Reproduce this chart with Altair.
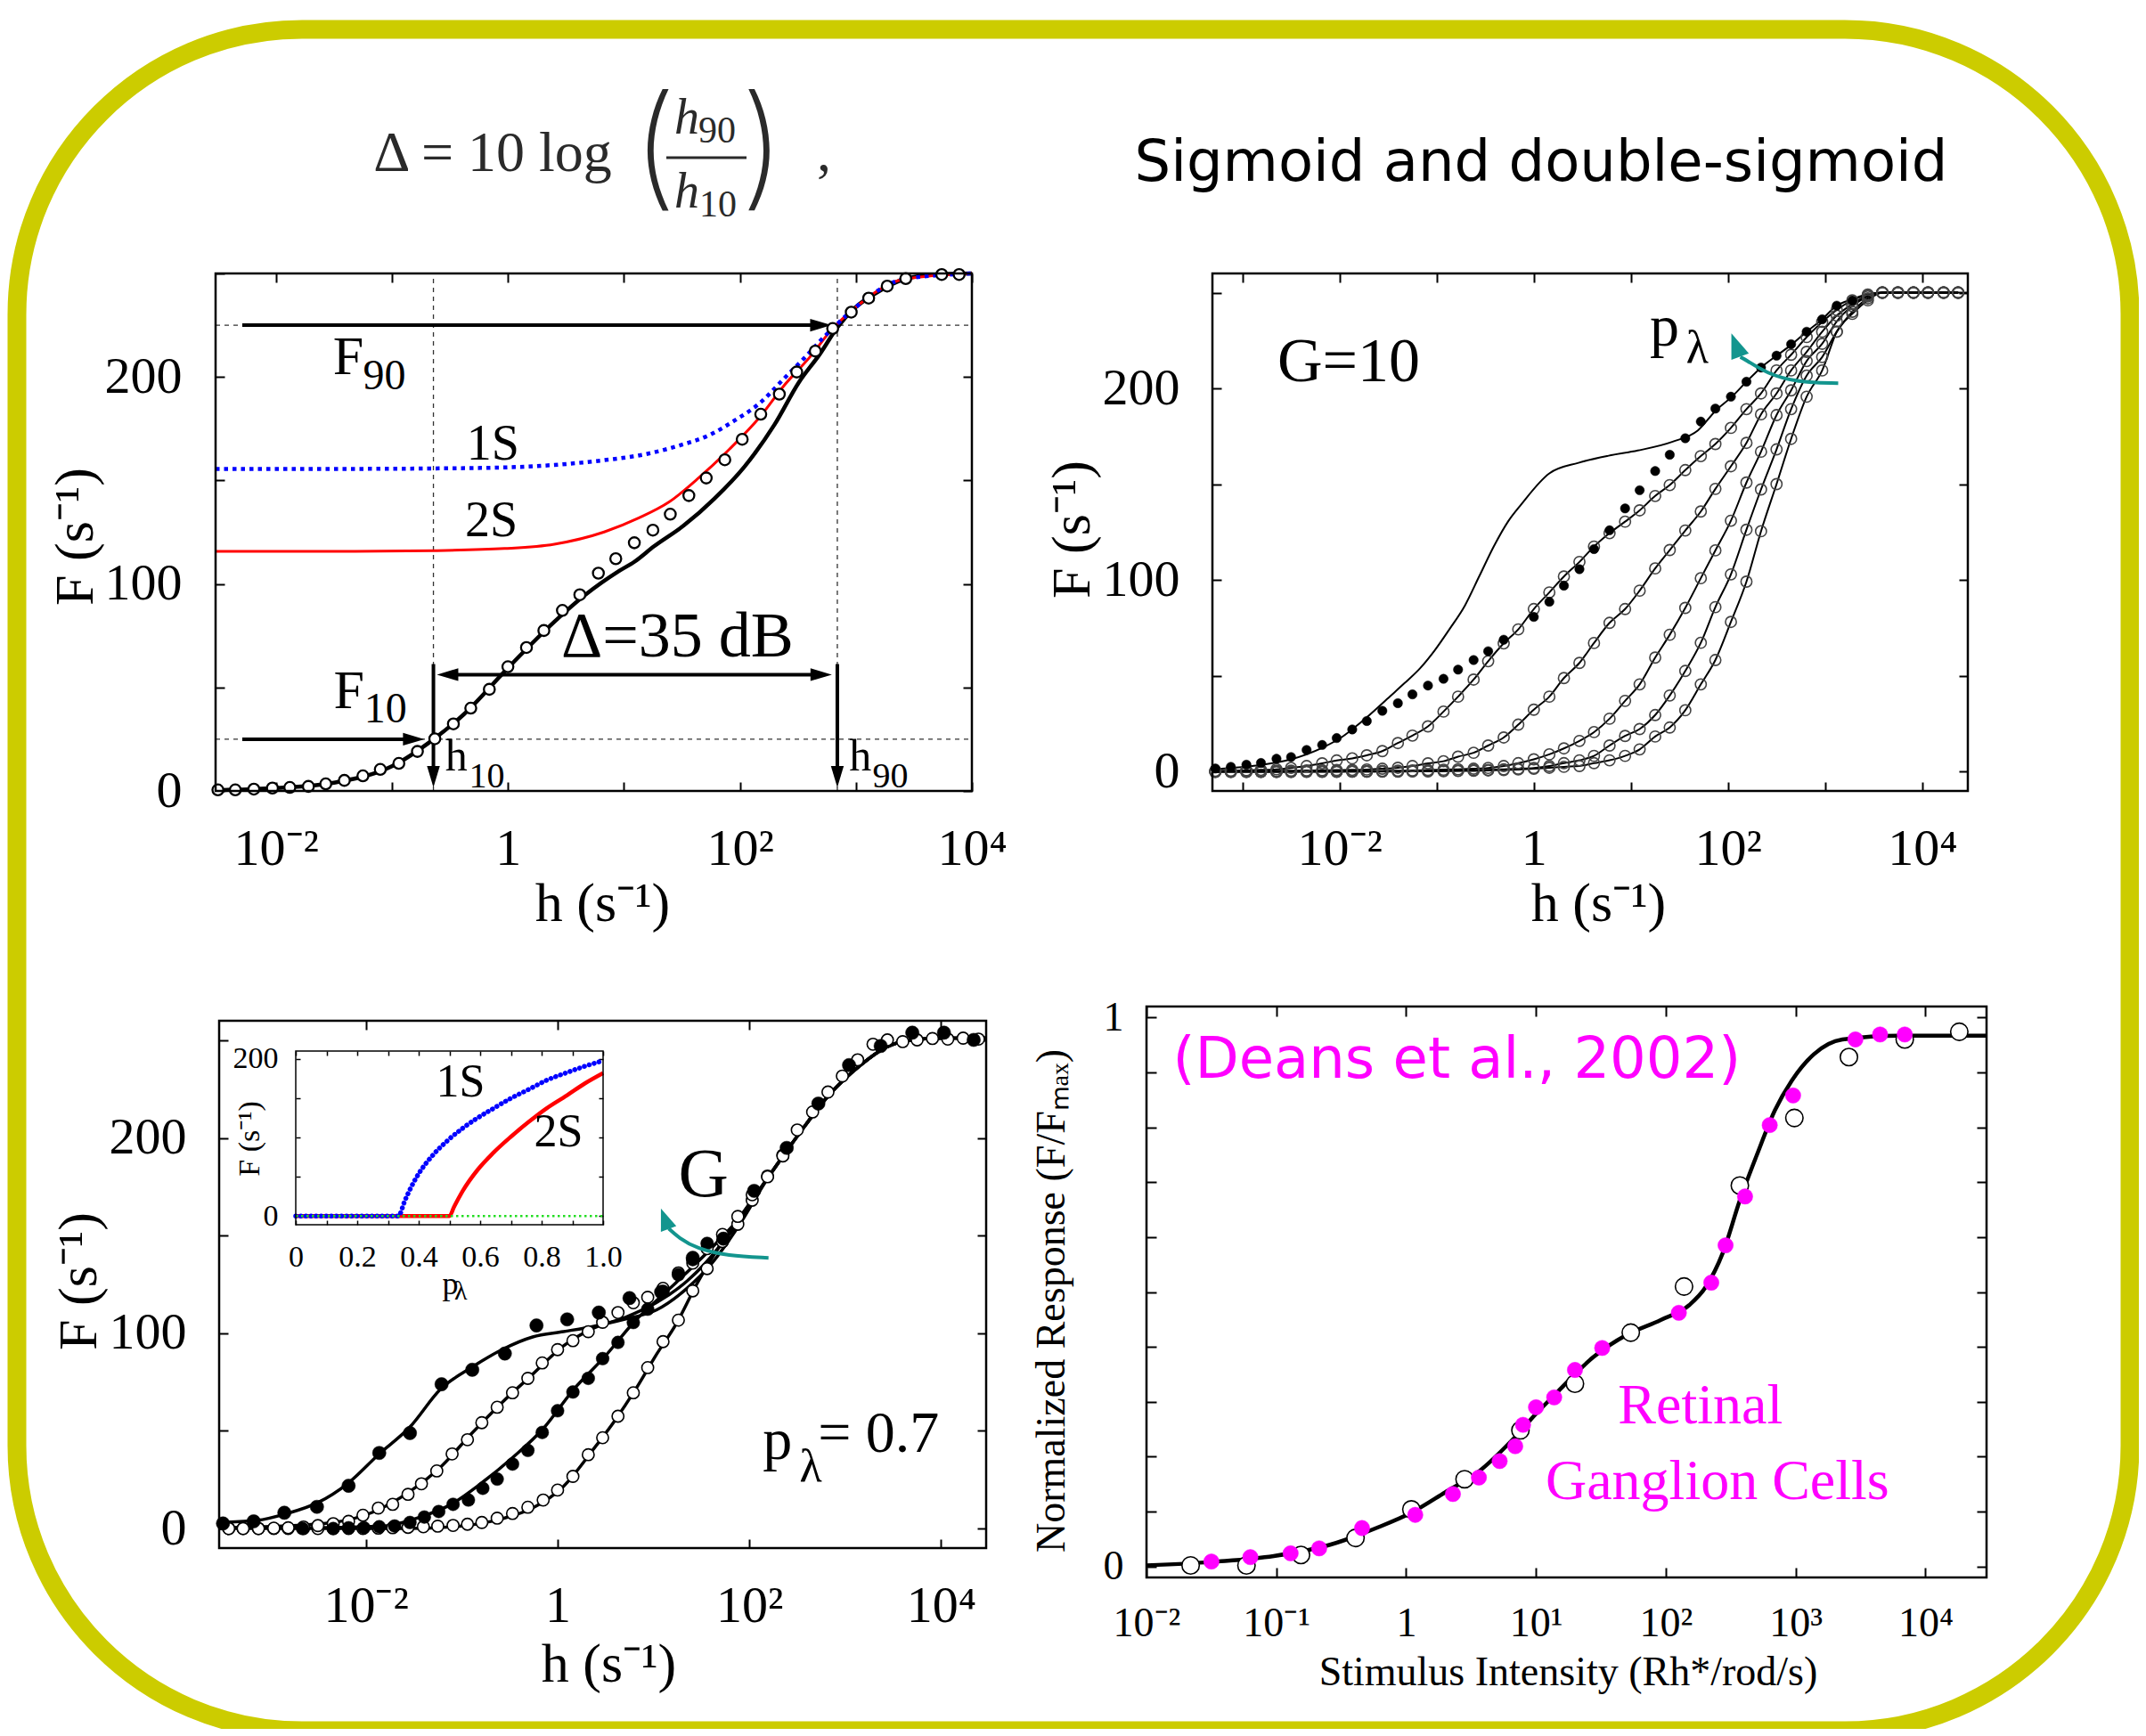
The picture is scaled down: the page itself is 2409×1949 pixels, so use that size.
import altair as alt
import pandas as pd

W, H = 2393, 1933
SERIF = "Liberation Serif"
SANS = "DejaVu Sans"
TEAL = "#13958e"
MAG = "#ff00ff"
YEL = "#cccc00"

# ------------------------------------------------------------------
# DATA (x positions given as log10(h))
# ------------------------------------------------------------------
# Top-left panel
tl_circ_exp = [-2.50, -2.35, -2.19, -2.03, -1.88, -1.72, -1.57, -1.41, -1.25, -1.10, -0.94, -0.78, -0.63, -0.47,
               -0.32, -0.16, 0.00, 0.16, 0.31, 0.47, 0.62, 0.78, 0.93, 1.09, 1.25, 1.40, 1.56, 1.71, 1.87, 2.02,
               2.18, 2.34, 2.49, 2.65, 2.80, 2.96, 3.11, 3.27, 3.43, 3.74, 3.89]
tl_circ_F = [0.5, 0.5, 0.9, 1.4, 1.7, 2.2, 3.4, 5.1, 7.3, 10.4, 13.3, 19.1, 25.2, 32.4, 40.0, 49.1, 60.0, 69.3,
             77.5, 87.2, 94.8, 105.2, 112.2, 119.9, 126.0, 133.7, 142.7, 151.2, 160.0, 169.9, 182.0, 191.7,
             202.4, 212.5, 223.4, 231.3, 238.1, 243.9, 247.5, 249.5, 249.5]
tl_black_exp = [-2.52, -2.0, -1.5, -1.0, -0.64, -0.38, 0.01, 0.40, 0.66, 0.96, 1.09, 1.26, 1.52, 1.78, 2.04, 2.30,
                2.51, 2.69, 2.84, 2.99, 3.16, 3.42, 3.68, 4.0]
tl_black_F = [0.4, 1.4, 4.0, 11.9, 25.0, 37.0, 60.0, 81.7, 94.4, 106.3, 110.7, 118.2, 128.4, 141.2, 156.7, 177.1,
              197.5, 211.1, 223.9, 233.3, 240.1, 247.3, 249.5, 250.0]
tl_red_exp = [-2.52, -1.32, -0.64, -0.03, 0.40, 0.83, 1.13, 1.39, 1.65, 1.91, 2.17, 2.38, 2.60, 2.80, 2.99, 3.42, 4.0]
tl_red_F = [115.8, 115.8, 116.1, 117.1, 119.2, 125.1, 131.9, 139.6, 151.5, 165.1, 180.5, 195.8, 209.4, 223.4,
            233.3, 247.3, 250.0]
tl_blue_exp = [-2.52, -1.32, -0.64, -0.03, 0.40, 0.83, 1.18, 1.48, 1.74, 1.95, 2.17, 2.38, 2.56, 2.73, 2.84, 2.99,
               3.42, 4.0]
tl_blue_F = [155.6, 155.6, 155.8, 156.3, 157.5, 159.8, 162.6, 166.9, 172.0, 178.8, 187.3, 199.2, 209.4, 219.6,
             225.6, 233.3, 247.3, 250.0]
tl_F90, tl_F10 = 225, 25
tl_h10_exp, tl_h90_exp = -0.642, 2.84

# Top-right panel (G = 10)
tr_grid = [-3.28, -3.12, -2.96, -2.81, -2.65, -2.50, -2.34, -2.18, -2.03, -1.87, -1.72, -1.56, -1.40, -1.25,
           -1.09, -0.93, -0.78, -0.62, -0.47, -0.31, -0.16, 0.00, 0.16, 0.31, 0.47, 0.62, 0.78, 0.94, 1.09, 1.25,
           1.40, 1.56, 1.72, 1.87, 2.03, 2.19, 2.34, 2.50, 2.65, 2.81, 2.97, 3.12, 3.28, 3.44, 3.59, 3.75, 3.91,
           4.06, 4.22, 4.37]
tr_filled = [1.7, 2.6, 3.7, 4.6, 6.8, 7.7, 11.4, 14.0, 17.6, 22.1, 26.5, 31.8, 35.8, 40.4, 45.0, 48.5, 53.3, 58.3,
             62.9, 68.9, None, 80.8, 88.7, 97.1, 105.7, 116.2, 126.0, 137.4, 146.9, 156.9, 165.4, 174.0, 182.7,
             189.5, 195.7, 203.5, 210.9, 217.1, 223.1, 229.6, 236.1, 243.2, 245.9, None, None, None, None, None,
             None, None]
tr_B = [0.5, 0.6, 0.8, 1.0, 1.3, 2.0, 3.0, 4.4, 5.9, 7.0, 8.6, 10.8, 15.0, 18.9, 23.7, 31.4, 39.2, 48.1, 57.7,
        67.0, 74.3, 84.9, 93.6, 101.9, 109.5, 117.5, 124.5, 130.5, 136.4, 143.9, 149.6, 157.4, 164.7, 171.0,
        179.4, 189.2, 197.4, 209.4, 217.6, 226.8, 234.7, 241.0, 246.0, 249.0, 250.0, 250.0, 250.0, 250.0, 250.0,
        250.0]
tr_C = [0.3, 0.3, 0.4, 0.4, 0.5, 0.6, 0.7, 0.8, 0.9, 1.0, 1.2, 1.6, 2.1, 3.0, 4.4, 5.5, 7.9, 9.9, 13.7, 17.9,
        24.6, 32.4, 39.2, 48.9, 56.8, 67.2, 77.7, 84.9, 94.5, 106.1, 115.7, 125.9, 135.8, 147.6, 159.4, 171.6,
        186.5, 197.4, 209.4, 219.1, 229.6, 238.0, 244.0, 248.5, 250.0, 250.0, 250.0, 250.0, 250.0, 250.0]
tr_D = [0.1, 0.1, 0.1, 0.1, 0.1, 0.2, 0.2, 0.2, 0.3, 0.3, 0.4, 0.5, 0.6, 0.7, 0.9, 1.1, 1.3, 1.6, 2.0, 3.0, 4.5,
        6.5, 9.1, 12.2, 16.1, 20.7, 27.7, 37.0, 45.6, 59.6, 71.5, 85.5, 101.0, 115.5, 131.0, 150.9, 167.0, 186.1,
        199.0, 214.3, 223.3, 235.0, 243.0, 248.0, 250.0, 250.0, 250.0, 250.0, 250.0, 250.0]
tr_E = [0.0, 0.0, 0.0, 0.0, 0.0, 0.0, 0.1, 0.1, 0.1, 0.1, 0.1, 0.2, 0.2, 0.3, 0.4, 0.5, 0.6, 0.8, 1.0, 1.3, 1.6,
        2.0, 3.0, 4.5, 6.0, 8.3, 13.7, 18.7, 22.3, 29.6, 39.8, 52.6, 67.3, 85.9, 103.0, 126.3, 147.3, 168.2,
        189.2, 206.7, 216.4, 229.6, 240.0, 247.0, 250.0, 250.0, 250.0, 250.0, 250.0, 250.0]
tr_F = [0.0, 0.0, 0.0, 0.0, 0.0, 0.0, 0.0, 0.0, 0.0, 0.1, 0.1, 0.1, 0.1, 0.2, 0.2, 0.3, 0.4, 0.5, 0.7, 0.9, 1.2,
        1.6, 2.1, 2.6, 3.0, 4.5, 6.0, 8.3, 11.7, 18.4, 23.1, 32.1, 45.6, 58.3, 78.2, 99.2, 125.5, 150.1, 173.7,
        195.7, 209.4, 229.6, 238.9, 246.0, 250.0, 250.0, 250.0, 250.0, 250.0, 250.0]
tr_A_exp = [-3.31, -2.90, -2.50, -2.18, -1.98, -1.73, -1.48, -1.33, -1.17, -1.02, -0.87, -0.71, -0.56, -0.41,
            -0.26, -0.13, 0.16, 0.46, 0.77, 1.07, 1.43, 1.69, 1.88, 2.04, 2.19, 2.34, 2.50, 2.66, 2.81, 2.97,
            3.12, 3.28, 3.44, 3.60, 4.47]
tr_A_F = [1.3, 3.0, 6.5, 12.5, 18.0, 28.0, 39.4, 46.3, 54.1, 63.4, 74.3, 86.7, 102.2, 117.8, 131.0, 139.5, 155.7,
          161.2, 164.9, 167.6, 172.2, 178.1, 188.8, 195.7, 203.5, 210.9, 217.1, 223.1, 229.6, 236.1, 243.2, 246.5,
          249.2, 250.0, 250.0]
tr_arrow_exp = [3.135, 2.708, 2.401, 2.188, 2.127]
tr_arrow_F = [202.7, 203.2, 207.8, 214.8, 216.4]

# Bottom-left panel (p_lambda = 0.7)
bl1_exp = [-3.49, -3.17, -2.85, -2.51, -2.18, -1.86, -1.54, -1.21, -0.89, -0.55, -0.22, 0.10, 0.43, 0.75, 1.08,
           1.41, 1.73, 2.05, 2.39, 2.72, 3.04, 3.37, 3.70, 4.03, 4.34]
bl1_F = [2.6, 3.7, 8.1, 11.1, 21.9, 38.7, 48.9, 73.9, 81.3, 89.6, 104.0, 107.1, 110.6, 118.0, 121.1, 138.6, 148.4,
         172.9, 194.9, 217.6, 237.3, 247.1, 253.9, 253.9, 250.2]
bl1L_exp = [-3.53, -3.14, -2.82, -2.50, -2.18, -1.86, -1.54, -1.22, -0.90, -0.58, -0.26, 0.06, 0.38, 0.71, 1.03,
            1.35, 1.61, 1.88, 2.20, 2.52, 2.84, 3.16, 3.43, 3.70, 4.02, 4.47]
bl1L_F = [3.1, 4.1, 7.7, 13.3, 23.4, 38.2, 52.0, 71.4, 82.4, 91.6, 98.1, 100.8, 103.6, 107.3, 111.9, 123.0, 135.9,
          154.3, 180.1, 202.2, 222.5, 237.3, 246.5, 250.2, 251.1, 251.1]
bl2_exp = [-3.43, -3.28, -3.12, -2.96, -2.81, -2.65, -2.50, -2.34, -2.18, -2.03, -1.87, -1.72, -1.56, -1.42, -1.26,
           -1.10, -0.94, -0.79, -0.63, -0.47, -0.31, -0.16, 0.00, 0.16, 0.32, 0.47, 0.63, 0.79, 0.94, 1.10, 1.26,
           1.41, 1.56, 1.72, 1.88, 2.03, 2.19, 2.35, 2.50, 2.66, 2.82, 2.97, 3.13, 3.29, 3.44, 3.60, 3.75, 3.91,
           4.07, 4.23, 4.39]
bl2_F = [0.0, 0.0, 0.0, 0.2, 0.4, 0.8, 1.5, 2.5, 3.7, 6.8, 10.5, 12.4, 17.5, 22.9, 29.5, 38.2, 45.5, 54.2, 62.1,
         69.5, 76.9, 84.8, 91.6, 96.2, 100.8, 105.6, 110.6, 115.6, 118.4, 123.0, 130.9, 135.9, 143.3, 150.6, 159.8,
         170.9, 180.1, 190.8, 204.1, 213.3, 223.5, 231.7, 240.0, 248.0, 250.2, 249.3, 250.2, 250.9, 250.6, 251.1,
         250.6]
bl2L_exp = [-3.53, -2.87, -2.34, -1.91, -1.54, -1.22, -0.90, -0.58, -0.26, 0.06, 0.38, 0.71, 1.03, 1.35, 1.67,
            1.88, 2.20, 2.52, 2.84, 3.16, 3.43, 3.70, 4.02, 4.47]
bl2L_F = [0.4, 1.3, 3.1, 8.7, 19.0, 31.5, 48.5, 64.5, 79.0, 93.5, 102.7, 108.2, 115.6, 126.7, 143.3, 158.0, 180.1,
          202.2, 222.5, 237.3, 246.5, 250.2, 251.1, 251.1]
bl3_exp = [-2.66, -2.34, -2.18, -2.02, -1.86, -1.70, -1.54, -1.39, -1.24, -1.09, -0.93, -0.78, -0.63, -0.47, -0.31,
           -0.16, 0.00, 0.16, 0.32, 0.47, 0.63, 0.79, 0.94, 1.10, 1.26, 1.41, 1.56]
bl3_F = [0.0, 0.0, 0.4, 0.4, 0.9, 1.3, 3.1, 5.9, 8.7, 12.4, 14.6, 20.6, 25.3, 33.0, 40.0, 49.2, 60.3, 69.9, 76.9,
         87.0, 95.3, 105.5, 112.3, 121.5, 130.0, 137.7, 146.0]
bl3L_exp = [-3.53, -2.61, -1.81, -1.43, -1.11, -0.79, -0.47, -0.15, 0.17, 0.49, 0.81, 1.13, 1.45, 1.67, 1.88, 2.20,
            2.52, 2.84, 3.16, 3.43, 3.70, 4.02, 4.47]
bl3L_F = [0.4, 0.4, 1.3, 5.9, 12.4, 23.4, 36.3, 51.1, 71.4, 87.9, 106.4, 121.1, 135.9, 146.9, 158.0, 180.1, 202.2,
          222.5, 237.3, 246.5, 250.2, 251.1, 251.1]
bl4_exp = [-3.43, -3.28, -3.12, -2.96, -2.81, -2.65, -2.50, -2.34, -2.18, -2.03, -1.87, -1.72, -1.56, -1.40, -1.25,
           -1.09, -0.94, -0.79, -0.63, -0.47, -0.31, -0.15, 0.00, 0.16, 0.32, 0.47, 0.63, 0.79, 0.94, 1.10, 1.26,
           1.41, 1.56, 1.72, 1.88, 2.03, 2.19, 2.35]
bl4_F = [0.0, 0.0, 0.0, 0.0, 0.0, 0.0, 0.0, 0.0, 0.0, 0.0, 0.2, 0.4, 0.6, 0.9, 1.2, 1.6, 2.2, 3.1, 5.3, 7.7, 10.9,
         14.6, 19.7, 26.7, 37.8, 46.5, 57.5, 69.5, 82.4, 95.7, 106.7, 121.7, 133.1, 146.9, 155.8, 168.1, 180.5,
         191.2]
bl4L_exp = [-3.53, -1.54, -1.00, -0.58, -0.26, 0.06, 0.38, 0.60, 0.81, 1.03, 1.24, 1.45, 1.67, 1.88, 2.20, 2.52,
            2.84, 3.16, 3.43, 3.70, 4.02, 4.47]
bl4L_F = [0.0, 0.0, 1.3, 5.0, 10.5, 21.5, 41.0, 55.5, 71.0, 89.0, 105.0, 125.0, 143.0, 156.0, 180.1, 202.2, 222.5,
          237.3, 246.5, 250.2, 251.1, 251.1]
bl_arrow_exp = [2.2, 1.773, 1.452, 1.265, 1.159]
bl_arrow_F = [138.6, 139.6, 143.3, 148.8, 153.6]

# Inset (F versus p_lambda)
in_blue_p = [0.0, 0.333, 0.341, 0.351, 0.370, 0.399, 0.447, 0.496, 0.544, 0.592, 0.641, 0.699, 0.757, 0.814,
             0.882, 0.940, 1.0]
in_blue_F = [0, 0, 4, 15.5, 32.5, 53.3, 77.9, 96.8, 112, 125, 136.5, 149.7, 161, 172.4, 182.6, 190.6, 197.7]
in_red_p = [0.0, 0.5, 0.515, 0.544, 0.592, 0.641, 0.699, 0.757, 0.814, 0.882, 0.940, 1.0]
in_red_F = [0, 0, 11.7, 32.5, 59, 79.8, 100.6, 119.5, 136.5, 153.5, 168.6, 181.9]
in_green_p = [0.0, 1.0]
in_green_F = [0, 0]

# Bottom-right panel (Deans et al., 2002)
br_mag_exp = [-1.50, -1.20, -0.89, -0.67, -0.34, 0.07, 0.36, 0.56, 0.72, 0.84, 0.90, 1.00, 1.14, 1.30, 1.51, 2.10,
              2.35, 2.46, 2.61, 2.80, 2.98, 3.46, 3.65, 3.84]
br_mag_R = [0.009, 0.017, 0.024, 0.033, 0.070, 0.094, 0.132, 0.162, 0.192, 0.219, 0.258, 0.290, 0.308, 0.358,
            0.398, 0.462, 0.517, 0.585, 0.674, 0.804, 0.858, 0.960, 0.969, 0.969]
br_open_exp = [-1.66, -1.23, -0.81, -0.39, 0.04, 0.45, 0.88, 1.30, 1.73, 2.14, 2.57, 2.99, 3.41, 3.84, 4.26]
br_open_R = [0.002, 0.002, 0.021, 0.052, 0.104, 0.159, 0.248, 0.333, 0.426, 0.510, 0.694, 0.817, 0.928, 0.960,
             0.974]
br_line_exp = [-2.0, -1.45, -1.02, -0.58, -0.23, 0.04, 0.30, 0.56, 0.82, 1.00, 1.17, 1.44, 1.70, 1.96, 2.18, 2.31,
               2.44, 2.57, 2.70, 2.84, 2.97, 3.14, 3.36, 3.80, 4.47]
br_line_R = [0.002, 0.009, 0.019, 0.040, 0.070, 0.098, 0.135, 0.173, 0.231, 0.278, 0.319, 0.381, 0.422, 0.449,
             0.476, 0.510, 0.572, 0.667, 0.749, 0.831, 0.885, 0.933, 0.960, 0.967, 0.967]

# Tick values and labels
dec_ticks_tl = [1e-2, 1e-1, 1, 10, 100, 1e3, 1e4]
dec_labels_tl = ["10⁻²", "", "1", "", "10²", "", "10⁴"]
dec_ticks_tr = [1e-3, 1e-2, 1e-1, 1, 10, 100, 1e3, 1e4]
dec_labels_tr = ["", "10⁻²", "", "1", "", "10²", "", "10⁴"]
dec_ticks_bl = [1e-2, 1, 100, 1e4]
dec_labels_bl = ["10⁻²", "1", "10²", "10⁴"]
dec_ticks_br = [1e-2, 1e-1, 1, 10, 100, 1e3, 1e4]
dec_labels_br = ["10⁻²", "10⁻¹", "1", "10¹", "10²", "10³", "10⁴"]
f_ticks = [0, 50, 100, 150, 200, 250]
f_labels = ["0", "", "100", "", "200", ""]
r_ticks = [0, 0.1, 0.2, 0.3, 0.4, 0.5, 0.6, 0.7, 0.8, 0.9, 1.0]
r_labels = ["0", "", "", "", "", "", "", "", "", "", "1"]
p_ticks = [0, 0.1, 0.2, 0.3, 0.4, 0.5, 0.6, 0.7, 0.8, 0.9, 1.0]
p_labels = ["0", "", "0.2", "", "0.4", "", "0.6", "", "0.8", "", "1.0"]
in_f_ticks = [0, 50, 100, 150, 200]
in_f_labels = ["0", "", "", "", "200"]


def pw(es):
    return [10.0 ** e for e in es]


# ------------------------------------------------------------------
# panel geometry (pixel ranges on the one big canvas)
# ------------------------------------------------------------------
PANELS = {
    "tl": dict(xr=[234, 1083], yr=[880, 299], xd=[10 ** -2.52, 1e4], yd=[0, 250], log=True),
    "tr": dict(xr=[1353, 2201], yr=[880, 299], xd=[10 ** -3.31, 10 ** 4.47], yd=[-10, 260], log=True),
    "bl": dict(xr=[238, 1099], yr=[1730, 1138], xd=[10 ** -3.53, 10 ** 4.47], yd=[-10, 260], log=True),
    "br": dict(xr=[1279, 2222], yr=[1763, 1122], xd=[1e-2, 10 ** 4.47], yd=[-0.02, 1.02], log=True),
    "in": dict(xr=[324, 669], yr=[1367, 1172], xd=[0, 1], yd=[-11, 210], log=False),
}


def xsc(k):
    p = PANELS[k]
    if p["log"]:
        return alt.Scale(type="log", domain=p["xd"], range=p["xr"], nice=False)
    return alt.Scale(type="linear", domain=p["xd"], range=p["xr"], nice=False, zero=False)


def ysc(k):
    p = PANELS[k]
    return alt.Scale(type="linear", domain=p["yd"], range=p["yr"], nice=False, zero=False)


def X(k, f="x"):
    return alt.X(f"{f}:Q", scale=xsc(k), axis=None)


def Y(k, f="y"):
    return alt.Y(f"{f}:Q", scale=ysc(k), axis=None)


def lab_expr(vals, labs):
    parts = []
    for v, s in zip(vals, labs):
        if s:
            tol = abs(v) * 1e-6 + 1e-9
            parts.append(f"abs(datum.value - ({v!r})) < {tol!r} ? '{s}'")
    return " : ".join(parts) + " : ''"


def frame_pair(k, T, sw, tw, xt, xl, yt, yl, fs, xpad, ypad, xtitle, xtxy, ytitle, ytxy, tfs):
    p = PANELS[k]
    left, right = p["xr"]
    bottom, top = p["yr"]
    df = pd.DataFrame({"x0": [p["xd"][0]], "x1": [p["xd"][1]], "y0": [p["yd"][0]], "y1": [p["yd"][1]]})
    common = dict(tickSize=T, tickWidth=tw, tickColor="black", domain=False, grid=False)
    lab = dict(labelFont=SERIF, labelFontSize=fs, labelColor="black", labelFlush=False, labelOverlap=False)
    ttl = dict(titleFont=SERIF, titleFontSize=tfs, titleFontWeight="normal", titleColor="black",
               titleBaseline="middle", titleAlign="center")
    bkw = dict(orient="bottom", values=xt, offset=-(H - bottom) - T, labelExpr=lab_expr(xt, xl),
               labelPadding=xpad, **common, **lab)
    if xtitle:
        bkw.update(title=xtitle, titleX=xtxy[0], titleY=xtxy[1] - (bottom - T), titleAngle=0, **ttl)
    else:
        bkw.update(title=None)
    lkw = dict(orient="left", values=yt, offset=-(left + T), labelExpr=lab_expr(yt, yl),
               labelPadding=ypad, **common, **lab)
    if ytitle:
        lkw.update(title=ytitle, titleX=ytxy[0] - (left + T), titleY=ytxy[1], titleAngle=270, **ttl)
    else:
        lkw.update(title=None)
    ax_b = alt.Axis(**bkw)
    ax_l = alt.Axis(**lkw)
    ax_t = alt.Axis(orient="top", values=xt, offset=-(top + T), labels=False, title=None, **common)
    ax_r = alt.Axis(orient="right", values=yt, offset=right - T - W, labels=False, title=None, **common)
    carrier = alt.Chart(df).mark_rect(opacity=0).encode(
        x=alt.X("x0:Q", scale=xsc(k), axis=ax_b), x2="x1:Q",
        y=alt.Y("y0:Q", scale=ysc(k), axis=ax_l), y2="y1:Q")
    frame = alt.Chart(df).mark_rect(fillOpacity=0, stroke="black", strokeWidth=sw).encode(
        x=alt.X("x0:Q", scale=xsc(k), axis=ax_t), x2="x1:Q",
        y=alt.Y("y0:Q", scale=ysc(k), axis=ax_r), y2="y1:Q")
    return carrier, frame


def line(k, xs, ys, color="black", width=2.0, dash=None, cap="butt", interp="monotone"):
    d = pd.DataFrame({"x": xs, "y": ys})
    kw = dict(color=color, strokeWidth=width, interpolate=interp, strokeCap=cap)
    if dash is not None:
        kw["strokeDash"] = dash
    return alt.Chart(d).mark_line(**kw).encode(x=X(k), y=Y(k))


def multiline(k, df, color, width):
    return alt.Chart(df).mark_line(color=color, strokeWidth=width, interpolate="monotone").encode(
        x=X(k), y=Y(k), detail="s:N")


def points(k, df, size, fill, stroke, sw):
    kw = dict(shape="circle", size=size, opacity=1, strokeWidth=sw, stroke=stroke)
    if fill is None:
        kw.update(filled=False)
    else:
        kw.update(filled=True, fill=fill)
    return alt.Chart(df).mark_point(**kw).encode(x=X(k), y=Y(k))


HEAD = "M0,0L0.6,2L-0.6,2Z"
HEAD_W = "M0,0L0.75,2L-0.75,2Z"


def heads(k, xs, ys, angs, size, color, shape=HEAD):
    d = pd.DataFrame({"x": xs, "y": ys, "a": angs})
    return alt.Chart(d).mark_point(shape=shape, size=size, filled=True, color=color, opacity=1,
                                   strokeWidth=0).encode(x=X(k), y=Y(k), angle=alt.Angle("a:Q", scale=None))


def rules(k, x1, x2, y1, y2, color, width, dash=None):
    d = pd.DataFrame({"x": x1, "x2": x2, "y": y1, "y2": y2})
    kw = dict(color=color, strokeWidth=width)
    if dash:
        kw["strokeDash"] = dash
    return alt.Chart(d).mark_rule(**kw).encode(x=X(k), x2="x2:Q", y=Y(k), y2="y2:Q")


def curve(k, xs, ys, color, width):
    d = pd.DataFrame({"x": xs, "y": ys, "o": list(range(len(xs)))})
    return alt.Chart(d).mark_line(color=color, strokeWidth=width, interpolate="basis").encode(
        x=X(k), y=Y(k), order="o:Q")


def texts(k, xs, ys, ts, sizes, font=SERIF, color="black", style="normal"):
    d = pd.DataFrame({"x": xs, "y": ys, "t": ts, "fs": sizes})
    return alt.Chart(d).mark_text(font=font, color=color, baseline="middle", align="center",
                                  fontStyle=style).encode(x=X(k), y=Y(k), text="t:N",
                                                          size=alt.Size("fs:Q", scale=None))


def xy(xs, ys):
    return pd.DataFrame({"x": xs, "y": ys}).dropna()


L = []
one = pd.DataFrame({"a": [0]})

# rounded yellow border
L.append(alt.Chart(one).mark_rect(fillOpacity=0, stroke=YEL, strokeWidth=21, cornerRadius=320).encode(
    x=alt.value(11), x2=alt.value(2383), y=alt.value(25), y2=alt.value(1935)))

# header: equation and title
eq = pd.DataFrame({"px": [545, 797, 798, 917], "py": [184, 152, 235, 184],
                   "t": ["Δ = 10 log", "90", "10", ","], "fs": [64, 42, 42, 64]})
L.append(alt.Chart(eq).mark_text(font=SERIF, color="#2a2a2a", baseline="alphabetic", align="center").encode(
    x=alt.X("px:Q", scale=None), y=alt.Y("py:Q", scale=None), text="t:N", size=alt.Size("fs:Q", scale=None)))
par = pd.DataFrame({"px": [727, 848], "py": [208, 208], "t": ["(", ")"], "fs": [150, 150]})
L.append(alt.Chart(par).mark_text(font="Inter", fontWeight=200, color="#2a2a2a", baseline="alphabetic",
                                  align="center").encode(
    x=alt.X("px:Q", scale=None), y=alt.Y("py:Q", scale=None), text="t:N", size=alt.Size("fs:Q", scale=None)))
eqh = pd.DataFrame({"px": [763, 763], "py": [142, 225], "t": ["h", "h"], "fs": [56, 56]})
L.append(alt.Chart(eqh).mark_text(font=SERIF, color="#2a2a2a", baseline="alphabetic", align="center",
                                  fontStyle="italic").encode(
    x=alt.X("px:Q", scale=None), y=alt.Y("py:Q", scale=None), text="t:N", size=alt.Size("fs:Q", scale=None)))
L.append(alt.Chart(one).mark_rule(color="#2a2a2a", strokeWidth=3).encode(
    x=alt.value(740), x2=alt.value(830), y=alt.value(169)))
ttl = pd.DataFrame({"px": [1722], "py": [195], "t": ["Sigmoid and double-sigmoid"]})
L.append(alt.Chart(ttl).mark_text(font=SANS, fontSize=64, color="black", baseline="alphabetic",
                                  align="center").encode(
    x=alt.X("px:Q", scale=None), y=alt.Y("py:Q", scale=None), text="t:N"))

# ---------------- top-left ----------------
c, f = frame_pair("tl", 10, 2.5, 2, dec_ticks_tl, dec_labels_tl, f_ticks, f_labels, 58, 36, 38,
                  "h (s⁻¹)", (668, 1006), "F (s⁻¹)", (76, 594), 62)
L.append(c)
d1, d2 = PANELS["tl"]["xd"]
L.append(rules("tl", [d1, d1, 10 ** tl_h10_exp, 10 ** tl_h90_exp], [d2, d2, 10 ** tl_h10_exp, 10 ** tl_h90_exp],
               [tl_F90, tl_F10, 0, 0], [tl_F90, tl_F10, 250, 250], "#333333", 1.3, dash=[5, 5]))
L.append(line("tl", pw(tl_black_exp), tl_black_F, "black", 4.5))
L.append(line("tl", pw(tl_red_exp), tl_red_F, "#ff0000", 3))
L.append(line("tl", pw(tl_blue_exp), tl_blue_F, "#0000ff", 4.5, dash=[4.5, 5]))
L.append(rules("tl", pw([-2.29, -2.29, tl_h10_exp, tl_h90_exp, -0.45]), pw([2.65, -0.86, tl_h10_exp, tl_h90_exp, 2.63]),
               [tl_F90, tl_F10, 61.3, 61.3, 56.2], [tl_F90, tl_F10, 11, 11, 56.2], "black", 4))
L.append(heads("tl", pw([2.79, -0.72, tl_h10_exp, tl_h90_exp, -0.612, 2.793]),
               [tl_F90, tl_F10, 1.7, 1.7, 56.2, 56.2], [90, 90, 180, 180, 270, 90], 576, "black"))
L.append(points("tl", xy(pw(tl_circ_exp), tl_circ_F), 150, "white", "black", 2.3))
L.append(texts("tl", pw([-1.375, -1.065, -0.129, -0.142, 1.461, -1.371, -1.056, -0.444, -0.181, 3.039, 3.297]),
               [209.5, 200.1, 167.4, 130.3, 74.6, 48.2, 39.2, 16.3, 6.8, 16.3, 6.8],
               ["F", "90", "1S", "2S", "Δ=35 dB", "F", "10", "h", "10", "h", "90"],
               [62, 48, 56, 56, 72, 62, 48, 50, 40, 50, 40]))
L.append(f)

# ---------------- top-right ----------------
c, f = frame_pair("tr", 10, 2.5, 2, dec_ticks_tr, dec_labels_tr, f_ticks, f_labels, 58, 36, 37,
                  "h (s⁻¹)", (1786, 1006), "F (s⁻¹)", (1195, 586), 62)
L.append(c)
rows = []
for name, vals in [("B", tr_B), ("C", tr_C), ("D", tr_D), ("E", tr_E), ("F", tr_F)]:
    for e, v in zip(tr_grid, vals):
        if v is not None:
            rows.append({"x": 10 ** e, "y": v, "s": name})
tr_open = pd.DataFrame(rows)
L.append(line("tr", pw(tr_A_exp), tr_A_F, "black", 2))
L.append(multiline("tr", tr_open, "black", 2))
L.append(points("tr", tr_open[["x", "y"]], 150, None, "#444444", 1.6))
L.append(points("tr", xy(pw(tr_grid), tr_filled), 110, "black", "black", 0.5))
L.append(curve("tr", pw(tr_arrow_exp), tr_arrow_F, TEAL, 4))
L.append(heads("tr", [10 ** 2.035], [228.8], [339.5], 780, TEAL, HEAD_W))
L.append(texts("tr", pw([-1.906, 1.347, 1.684]), [213.5, 231.7, 221.0], ["G=10", "p", "λ"], [70, 66, 52]))
L.append(f)

# ---------------- bottom-left ----------------
c, f = frame_pair("bl", 10, 2.5, 2, dec_ticks_bl, dec_labels_bl, f_ticks, f_labels, 58, 36, 37,
                  "h (s⁻¹)", (675, 1860), "F (s⁻¹)", (80, 1430), 62)
L.append(c)
bl_lines = pd.concat([
    pd.DataFrame({"x": pw(bl1L_exp), "y": bl1L_F, "s": "1"}),
    pd.DataFrame({"x": pw(bl2L_exp), "y": bl2L_F, "s": "2"}),
    pd.DataFrame({"x": pw(bl3L_exp), "y": bl3L_F, "s": "3"}),
    pd.DataFrame({"x": pw(bl4L_exp), "y": bl4L_F, "s": "4"}),
])
L.append(multiline("bl", bl_lines, "black", 3.5))
L.append(points("bl", xy(pw(bl4_exp), bl4_F), 175, "white", "black", 1.6))
L.append(points("bl", xy(pw(bl2_exp), bl2_F), 175, "white", "black", 1.6))
L.append(points("bl", xy(pw(bl3_exp), bl3_F), 210, "black", "black", 0.5))
L.append(points("bl", xy(pw(bl1_exp), bl1_F), 230, "black", "black", 0.5))
L.append(curve("bl", pw(bl_arrow_exp), bl_arrow_F, TEAL, 4))
L.append(heads("bl", [10 ** 1.078], [163.9], [339.5], 605, TEAL, HEAD_W))
L.append(texts("bl", pw([1.522, 2.293, 2.64, 3.348]), [180.5, 44.6, 31.3, 48.3],
               ["G", "p", "λ", "= 0.7"], [78, 66, 52, 66]))
L.append(f)

# ---------------- inset ----------------
c, f = frame_pair("in", 5, 1.5, 1.5, p_ticks, p_labels, in_f_ticks, in_f_labels, 34, 19, 20,
                  None, None, "F (s⁻¹)", (272, 1270), 34)
L.append(c)
L.append(line("in", in_red_p, in_red_F, "#ff0000", 4.5, interp="monotone"))
L.append(line("in", in_blue_p, in_blue_F, "#0000ff", 5.5, dash=[0.1, 5.6], cap="round"))
L.append(line("in", in_green_p, in_green_F, "#22dd22", 2.5, dash=[2.5, 3.5]))
L.append(texts("in", [0.536, 0.855, 0.503, 0.537], [170.5, 107.3, -86.7, -96.0],
               ["1S", "2S", "p", "λ"], [52, 52, 36, 30]))
L.append(f)

# ---------------- bottom-right ----------------
c, f = frame_pair("br", 11, 2.5, 2, dec_ticks_br, dec_labels_br, r_ticks, r_labels, 46, 29, 26,
                  "Stimulus Intensity (Rh*/rod/s)", (1752, 1869), "Normalized Response (F/Fₘₐₓ)", (1172, 1452), 46)
L.append(c)
L.append(line("br", pw(br_line_exp), br_line_R, "black", 4.5))
L.append(points("br", xy(pw(br_open_exp), br_open_R), 380, "white", "black", 1.6))
L.append(points("br", xy(pw(br_mag_exp), br_mag_R), 300, MAG, MAG, 0.5))
L.append(texts("br", [10 ** 0.39], [0.921], ["(Deans et al., 2002)"], [64], font=SANS, color=MAG))
L.append(texts("br", pw([2.266, 2.397]), [0.291, 0.154], ["Retinal", "Ganglion Cells"], [64, 64], color=MAG))
L.append(f)

chart = alt.layer(*L).resolve_scale(x="independent", y="independent").properties(
    width=W, height=H, padding=0, background="white",
    autosize=alt.AutoSizeParams(type="none")).configure_view(stroke=None)

chart.save("out.html", embed_options={"renderer": "svg", "actions": False})
